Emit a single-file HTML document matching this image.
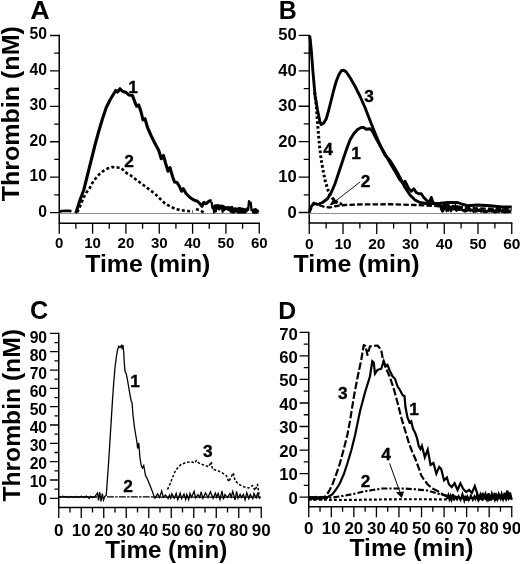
<!DOCTYPE html>
<html><head><meta charset="utf-8"><title>Thrombin generation</title>
<style>
html,body{margin:0;padding:0;background:#fff;}
body{width:520px;height:564px;overflow:hidden;}
svg{display:block;filter:grayscale(1);}
text{font-family:"Liberation Sans",sans-serif;font-weight:bold;fill:#000;}
.ax{stroke:#000;stroke-width:1.5;fill:none;stroke-linecap:butt;}
.tk{stroke:#000;stroke-width:1.3;fill:none;}
.c{fill:none;stroke:#000;stroke-linejoin:round;stroke-linecap:butt;}
</style></head><body>
<svg width="520" height="564" viewBox="0 0 520 564">
<rect width="520" height="564" fill="#fff"/>

<path class="ax" style="stroke-width:1.5" d="M59.25,34.85 V223.2 H259.90"/>
<text transform="translate(47.0,216.80) scale(0.97,1)" font-size="16.2" text-anchor="end">0</text>
<text transform="translate(47.0,181.30) scale(0.97,1)" font-size="16.2" text-anchor="end">10</text>
<text transform="translate(47.0,145.80) scale(0.97,1)" font-size="16.2" text-anchor="end">20</text>
<text transform="translate(47.0,110.30) scale(0.97,1)" font-size="16.2" text-anchor="end">30</text>
<text transform="translate(47.0,74.80) scale(0.97,1)" font-size="16.2" text-anchor="end">40</text>
<text transform="translate(47.0,39.30) scale(0.97,1)" font-size="16.2" text-anchor="end">50</text>
<text transform="translate(59.25,248.2) scale(1.0,1)" font-size="15.0" text-anchor="middle">0</text>
<text transform="translate(92.58,248.2) scale(1.0,1)" font-size="15.0" text-anchor="middle">10</text>
<text transform="translate(125.92,248.2) scale(1.0,1)" font-size="15.0" text-anchor="middle">20</text>
<text transform="translate(159.25,248.2) scale(1.0,1)" font-size="15.0" text-anchor="middle">30</text>
<text transform="translate(192.58,248.2) scale(1.0,1)" font-size="15.0" text-anchor="middle">40</text>
<text transform="translate(225.92,248.2) scale(1.0,1)" font-size="15.0" text-anchor="middle">50</text>
<text transform="translate(259.25,248.2) scale(1.0,1)" font-size="15.0" text-anchor="middle">60</text>
<path class="tk" style="stroke-width:1.3" d="M50.05,212.60H59.25M54.25,194.89H59.25M50.05,177.18H59.25M54.25,159.47H59.25M50.05,141.76H59.25M54.25,124.05H59.25M50.05,106.34H59.25M54.25,88.63H59.25M50.05,70.92H59.25M54.25,53.21H59.25M50.05,35.50H59.25M59.25,223.2V233.7M75.92,223.2V228.7M92.58,223.2V233.7M109.25,223.2V228.7M125.92,223.2V233.7M142.58,223.2V228.7M159.25,223.2V233.7M175.92,223.2V228.7M192.58,223.2V233.7M209.25,223.2V228.7M225.92,223.2V233.7M242.58,223.2V228.7M259.25,223.2V233.7"/>
<path d="M59.25,213.5H259.25" stroke="#8e8e8e" stroke-width="1" fill="none"/>
<text x="30.2" y="19.1" font-size="25" textLength="19.5" lengthAdjust="spacingAndGlyphs">A</text>
<text transform="translate(19.2,201.2) rotate(-90)" font-size="24.5" textLength="175" lengthAdjust="spacingAndGlyphs">Thrombin (nM)</text>
<text x="85.2" y="271.8" font-size="24.2" textLength="125.2" lengthAdjust="spacingAndGlyphs">Time (min)</text>
<path class="c" stroke-width="3.1" d="M75.40,213.00 L76.40,211.50 L80.00,200.00 L83.75,190.00 L87.50,175.00 L91.25,160.00 L95.00,145.00 L98.75,131.25 L102.50,118.75 L106.25,107.50 L110.00,100.00 L113.75,93.75 L115.75,90.50 L117.50,92.00 L120.00,88.75 L122.50,91.25 L126.25,92.50 L128.75,95.00 L132.50,95.50 L135.00,102.50 L136.75,106.25 L138.75,105.00 L141.25,112.50 L143.00,120.00 L145.00,118.75 L147.50,127.50 L151.25,136.00 L155.00,143.50 L158.75,150.50 L161.25,158.75 L163.50,155.50 L165.50,163.00 L168.00,171.25 L170.00,167.70 L172.50,176.50 L174.50,182.00 L177.00,182.50 L179.50,186.50 L181.50,191.25 L183.30,188.75 L186.25,193.75 L190.00,197.50 L193.75,200.00 L197.50,201.25 L200.00,203.75 L202.00,206.25 L203.75,202.50 L206.25,203.75 L208.75,201.25 L210.50,200.80 L211.60,201.20"/>
<path class="c" stroke-width="2.6" d="M59.6,211.8 L62,211 L66,210.8 L69,210.9 L71.5,211.3"/>
<path class="c" stroke-width="2.3" d="M211.60,201.95 L212.45,208.17 L213.30,206.53 L214.15,212.47 L215.00,205.44 L215.85,211.32 L216.70,205.28 L217.55,208.49 L218.40,205.22 L219.25,209.50 L220.10,205.64 L220.95,208.37 L221.80,205.70 L222.65,211.92 L223.50,206.10 L224.35,210.13 L225.20,207.11 L226.05,208.90 L226.90,207.16 L227.75,209.49 L228.60,207.04 L229.45,210.50 L230.30,207.37 L231.15,212.00 L232.00,207.00 L232.85,212.60 L233.70,208.47 L234.55,212.23 L235.40,208.34 L236.25,211.41 L237.10,208.58 L237.95,212.60 L238.80,208.21 L239.65,212.55 L240.50,208.28 L241.35,212.60 L242.20,208.60 L243.05,212.60 L243.90,208.94 L244.75,212.60 L245.60,209.36 L246.45,211.54 L247.30,208.42 L248.15,209.68 L249.00,201.23 L249.85,204.53 L250.70,202.62 L251.55,210.09 L252.40,210.02 L253.25,212.60 L254.10,209.42 L254.95,212.60 L255.80,209.22 L256.65,212.60 L257.50,210.42 L258.35,212.60"/>
<path class="c" stroke-width="2.6" stroke-dasharray="3 2.3" d="M77.30,212.30 L79.50,207.60 L81.50,202.90 L83.60,197.50 L86.20,192.80 L89.70,188.10 L92.60,182.70 L95.50,178.60 L99.00,174.60 L103.00,171.20 L107.50,168.60 L112.50,167.00 L117.50,167.50 L121.25,168.00 L125.00,172.00 L130.00,175.00 L135.00,178.75 L140.00,182.50 L145.00,186.25 L150.00,190.00 L155.00,193.75 L160.00,198.75 L165.00,203.50 L170.00,206.25 L175.00,208.75 L180.00,210.00 L185.00,210.70 L190.00,211.25 L193.00,211.60"/>
<path class="c" stroke-width="2.6" stroke-dasharray="3 2.3" d="M196,209 L199,210 L204,212.5"/>
<text x="128.2" y="93.4" font-size="17.3" stroke="#000" stroke-width="0.35">1</text>
<text x="124.2" y="166.70000000000002" font-size="17.3" stroke="#000" stroke-width="0.35">2</text>
<path class="ax" style="stroke-width:1.5" d="M309.25,34.75 V223.1 H512.40"/>
<text transform="translate(296.8,217.50) scale(1.0,1)" font-size="16.6" text-anchor="end">0</text>
<text transform="translate(296.8,182.08) scale(1.0,1)" font-size="16.6" text-anchor="end">10</text>
<text transform="translate(296.8,146.66) scale(1.0,1)" font-size="16.6" text-anchor="end">20</text>
<text transform="translate(296.8,111.24) scale(1.0,1)" font-size="16.6" text-anchor="end">30</text>
<text transform="translate(296.8,75.82) scale(1.0,1)" font-size="16.6" text-anchor="end">40</text>
<text transform="translate(296.8,40.40) scale(1.0,1)" font-size="16.6" text-anchor="end">50</text>
<text transform="translate(309.25,248.5) scale(1.0,1)" font-size="15.5" text-anchor="middle">0</text>
<text transform="translate(343.00,248.5) scale(1.0,1)" font-size="15.5" text-anchor="middle">10</text>
<text transform="translate(376.75,248.5) scale(1.0,1)" font-size="15.5" text-anchor="middle">20</text>
<text transform="translate(410.50,248.5) scale(1.0,1)" font-size="15.5" text-anchor="middle">30</text>
<text transform="translate(444.25,248.5) scale(1.0,1)" font-size="15.5" text-anchor="middle">40</text>
<text transform="translate(478.00,248.5) scale(1.0,1)" font-size="15.5" text-anchor="middle">50</text>
<text transform="translate(511.75,248.5) scale(1.0,1)" font-size="15.5" text-anchor="middle">60</text>
<path class="tk" style="stroke-width:1.3" d="M298.75,212.50H309.25M303.75,194.79H309.25M298.75,177.08H309.25M303.75,159.37H309.25M298.75,141.66H309.25M303.75,123.95H309.25M298.75,106.24H309.25M303.75,88.53H309.25M298.75,70.82H309.25M303.75,53.11H309.25M298.75,35.40H309.25M309.25,223.1V233.9M326.12,223.1V228.6M343.00,223.1V233.9M359.88,223.1V228.6M376.75,223.1V233.9M393.62,223.1V228.6M410.50,223.1V233.9M427.38,223.1V228.6M444.25,223.1V233.9M461.12,223.1V228.6M478.00,223.1V233.9M494.88,223.1V228.6M511.75,223.1V233.9"/>
<path d="M309.25,213.5H511.75" stroke="#8e8e8e" stroke-width="1" fill="none"/>
<text x="278.7" y="19.2" font-size="24.9">B</text>
<text x="293.5" y="271.6" font-size="24.5" textLength="126" lengthAdjust="spacingAndGlyphs">Time (min)</text>
<path class="c" stroke-width="2.9" d="M309.60,35.50 L310.30,40.00 L311.25,50.00 L313.00,72.50 L315.00,95.00 L317.50,110.00 L320.00,122.00 L321.25,124.60 L323.75,123.00 L326.25,118.75 L328.75,110.00 L331.25,100.00 L333.75,90.00 L336.25,81.25 L338.75,75.00 L341.25,70.75 L343.75,70.30 L346.25,72.00 L350.00,77.50 L355.00,86.25 L360.00,96.25 L365.00,107.50 L370.00,120.50 L375.00,133.00 L380.00,145.00 L385.00,155.00 L390.00,160.50 L395.00,168.50 L400.00,177.50 L405.00,187.50 L410.00,195.00 L415.00,200.00 L420.00,202.50 L427.50,203.75 L440.00,203.25 L450.00,202.50 L457.50,202.50 L462.50,204.25 L467.50,205.75 L477.50,205.00 L490.00,205.75 L502.50,207.00 L511.75,207.00"/>
<path class="c" stroke-width="2.9" d="M309.25,212.50 L311.00,207.00 L313.75,203.00 L317.50,204.50 L322.50,202.50 L327.50,198.75 L331.25,192.50 L335.00,183.75 L338.75,172.50 L342.50,161.25 L346.25,150.00 L350.00,140.00 L353.75,133.75 L357.50,129.50 L361.25,127.50 L363.75,127.50 L366.25,129.25 L370.00,128.75 L372.50,131.25 L376.25,138.75 L381.25,147.50 L386.25,156.25 L391.25,165.00 L395.00,171.25 L400.00,180.00 L403.75,183.75 L405.00,181.25 L408.75,188.75 L411.25,191.25 L413.75,188.75 L416.25,192.50 L418.75,193.75 L421.25,193.75 L423.75,197.50 L427.50,201.25 L430.00,201.25 L431.25,197.50 L433.00,202.50 L436.25,203.75 L440.00,205.00 L442.50,211.25 L444.50,205.00 L447.00,202.50 L448.75,207.50 L451.25,210.00 L453.75,206.25 L456.25,210.00 L460.00,208.75 L465.00,211.25 L470.00,209.50 L475.00,211.25 L480.00,210.00 L485.00,212.00 L490.00,210.00 L495.00,212.00 L500.00,210.50 L505.00,212.00 L511.25,211.25"/>
<path class="c" stroke-width="1.7" d="M441.00,210.42 L441.95,205.42 L443.45,210.86 L444.99,206.28 L446.46,211.59 L447.40,207.37 L448.35,211.12 L449.20,205.46 L450.88,211.59 L452.41,205.61 L453.89,209.77 L455.39,204.92 L456.50,211.03 L457.47,205.49 L458.56,209.82 L459.76,206.06 L460.95,209.60 L462.21,205.89"/>
<path class="c" stroke-width="1.1" d="M470.00,212.15 L471.48,209.57 L473.53,212.61 L475.22,209.86 L477.03,211.05 L479.04,209.08 L480.97,212.46 L483.21,208.85 L484.51,212.34 L485.73,209.75 L487.68,212.11 L489.53,208.44 L491.40,212.14 L493.73,209.03 L494.87,211.24 L496.07,209.38 L497.55,211.85 L499.16,209.59 L501.59,211.87 L502.91,208.49 L504.54,212.38 L506.42,208.87 L508.62,211.41 L510.15,209.50"/>
<path class="c" stroke-width="3" stroke-dasharray="2.6 2.3" d="M314.60,92.00 L316.25,105.00 L317.50,122.50 L318.75,137.50 L320.00,150.00 L321.25,160.00 L323.00,170.00 L325.00,180.00 L327.50,188.75 L330.00,195.00 L333.75,200.00 L337.50,202.50 L342.50,204.50"/>
<path class="c" stroke-width="2.3" stroke-dasharray="5.5 2.2" d="M309.25,212.50 L312.50,205.00 L316.25,203.75 L320.00,205.50 L325.00,207.00 L330.00,207.50 L335.00,206.25 L345.00,205.00 L357.50,204.50 L375.00,204.30 L390.00,204.25 L415.00,205.00 L440.00,206.25 L465.00,208.00 L490.00,208.75 L511.75,209.50"/>
<path class="c" stroke-width="2.2" stroke-dasharray="2.6 2.2" d="M440.00,207.50 L465.00,210.00 L490.00,211.30 L511.75,212.00"/>
<path d="M360,182 L333,203" stroke="#000" stroke-width="0.9" fill="none"/>
<path d="M329.5,205.5 L334,197.8 L338,203 Z" fill="#000"/>
<text x="364.2" y="102.4" font-size="17.3" stroke="#000" stroke-width="0.35">3</text>
<text x="323.2" y="154.6" font-size="17.3" stroke="#000" stroke-width="0.35">4</text>
<text x="351.2" y="159.20000000000002" font-size="17.3" stroke="#000" stroke-width="0.35">1</text>
<text x="360.7" y="186.70000000000002" font-size="17.3" stroke="#000" stroke-width="0.35">2</text>
<path class="ax" style="stroke-width:1.5" d="M58.75,332.75 V507.6 H261.90"/>
<text transform="translate(47.1,504.80) scale(0.94,1)" font-size="16.7" text-anchor="end">0</text>
<text transform="translate(47.1,486.77) scale(0.94,1)" font-size="16.7" text-anchor="end">10</text>
<text transform="translate(47.1,468.74) scale(0.94,1)" font-size="16.7" text-anchor="end">20</text>
<text transform="translate(47.1,450.71) scale(0.94,1)" font-size="16.7" text-anchor="end">30</text>
<text transform="translate(47.1,432.68) scale(0.94,1)" font-size="16.7" text-anchor="end">40</text>
<text transform="translate(47.1,414.65) scale(0.94,1)" font-size="16.7" text-anchor="end">50</text>
<text transform="translate(47.1,396.62) scale(0.94,1)" font-size="16.7" text-anchor="end">60</text>
<text transform="translate(47.1,378.59) scale(0.94,1)" font-size="16.7" text-anchor="end">70</text>
<text transform="translate(47.1,360.56) scale(0.94,1)" font-size="16.7" text-anchor="end">80</text>
<text transform="translate(47.1,342.53) scale(0.94,1)" font-size="16.7" text-anchor="end">90</text>
<text transform="translate(58.75,536.0) scale(1.0,1)" font-size="17" text-anchor="middle">0</text>
<text transform="translate(81.25,536.0) scale(1.0,1)" font-size="17" text-anchor="middle">10</text>
<text transform="translate(103.75,536.0) scale(1.0,1)" font-size="17" text-anchor="middle">20</text>
<text transform="translate(126.25,536.0) scale(1.0,1)" font-size="17" text-anchor="middle">30</text>
<text transform="translate(148.75,536.0) scale(1.0,1)" font-size="17" text-anchor="middle">40</text>
<text transform="translate(171.25,536.0) scale(1.0,1)" font-size="17" text-anchor="middle">50</text>
<text transform="translate(193.75,536.0) scale(1.0,1)" font-size="17" text-anchor="middle">60</text>
<text transform="translate(216.25,536.0) scale(1.0,1)" font-size="17" text-anchor="middle">70</text>
<text transform="translate(238.75,536.0) scale(1.0,1)" font-size="17" text-anchor="middle">80</text>
<text transform="translate(261.25,536.0) scale(1.0,1)" font-size="17" text-anchor="middle">90</text>
<path class="tk" style="stroke-width:1.3" d="M49.95,498.30H58.75M54.45,489.14H58.75M49.95,479.98H58.75M54.45,470.82H58.75M49.95,461.66H58.75M54.45,452.49H58.75M49.95,443.33H58.75M54.45,434.17H58.75M49.95,425.01H58.75M54.45,415.85H58.75M49.95,406.69H58.75M54.45,397.53H58.75M49.95,388.37H58.75M54.45,379.21H58.75M49.95,370.04H58.75M54.45,360.88H58.75M49.95,351.72H58.75M54.45,342.56H58.75M49.95,333.40H58.75M58.75,507.6V518.1M70.00,507.6V512.6M81.25,507.6V518.1M92.50,507.6V512.6M103.75,507.6V518.1M115.00,507.6V512.6M126.25,507.6V518.1M137.50,507.6V512.6M148.75,507.6V518.1M160.00,507.6V512.6M171.25,507.6V518.1M182.50,507.6V512.6M193.75,507.6V518.1M205.00,507.6V512.6M216.25,507.6V518.1M227.50,507.6V512.6M238.75,507.6V518.1M250.00,507.6V512.6M261.25,507.6V518.1"/>
<text x="30.0" y="319.4" font-size="25.2">C</text>
<text transform="translate(19.5,501.6) rotate(-90)" font-size="24.5" textLength="172.5" lengthAdjust="spacingAndGlyphs">Thrombin (nM)</text>
<text x="105.3" y="557.6" font-size="24" textLength="122" lengthAdjust="spacingAndGlyphs">Time (min)</text>
<path class="c" stroke-width="1.3" style="stroke-linejoin:miter" d="M59.00,497.00 L61.00,497.19 L62.97,496.17 L64.41,497.03 L66.18,496.42 L68.33,497.59 L70.78,496.47 L73.62,497.38 L76.12,496.53 L78.49,497.61 L81.33,496.26 L84.20,497.51 L86.21,496.03 L89.18,498.35 L90.74,496.43 L92.82,497.45 L95.04,496.31 L97.50,493.00 L98.50,500.50 L99.70,492.00 L101.00,501.50 L102.30,493.50 L103.50,500.00 L104.80,496.50 L106.25,495.50 L107.50,478.00 L108.75,460.50 L110.00,440.00 L111.25,420.00 L112.50,400.00 L113.75,382.50 L115.00,367.50 L116.25,357.50 L117.50,350.00 L118.75,346.25 L120.00,347.50 L121.25,345.50 L122.00,348.00 L123.00,345.00 L123.75,352.50 L124.25,362.50 L125.00,371.25 L126.25,373.75 L127.50,380.00 L128.75,387.50 L130.00,395.00 L131.25,401.25 L132.00,402.50 L133.00,415.00 L134.50,427.50 L135.75,435.00 L137.00,442.50 L137.60,448.50 L138.75,443.00 L140.00,458.00 L141.25,465.50 L142.50,468.00 L143.75,465.50 L145.50,475.50 L147.50,479.25 L150.00,485.50 L152.50,491.75 L153.75,495.50 L155.00,498.12 L157.54,493.84 L159.58,497.40 L161.68,491.13 L163.28,497.14 L165.47,494.99 L168.08,498.67 L169.46,495.06 L170.69,498.26 L171.87,493.85 L174.29,498.30 L176.19,493.31 L177.76,499.59 L180.17,493.19 L181.66,498.69 L183.97,494.02 L185.69,499.49 L186.83,494.53 L188.69,499.55 L189.94,493.40 L191.49,497.14 L194.10,491.29 L195.61,497.88 L197.96,494.62 L199.78,497.41 L201.12,491.78 L202.90,498.36 L205.52,492.93 L208.00,497.47 L210.44,491.79 L213.08,498.36 L215.40,493.14 L216.65,497.14 L218.16,493.48 L219.99,499.49 L222.00,490.82 L223.38,499.35 L224.89,494.59 L227.46,497.43 L229.94,493.47 L231.24,497.00 L232.75,491.52 L235.14,500.02 L236.54,491.45 L238.03,498.41 L240.10,494.34 L241.55,497.51 L243.37,494.30 L245.07,499.91 L246.76,492.69 L248.90,498.77 L250.26,494.41 L252.78,498.79 L253.95,493.38 L256.20,497.76 L257.46,493.63 L259.96,498.89"/>
<path class="c" stroke-width="1.5" d="M59,496.9 H97"/>
<path class="c" stroke-width="1.15" stroke-dasharray="7 1.2 2.5 1.2" d="M107,496.8 H153"/>
<path class="c" stroke-width="1.3" d="M153,497.2 H261"/>
<path class="c" stroke-width="1.5" stroke-dasharray="2.6 1.8" d="M167.50,489.50 L170.00,484.00 L172.50,477.50 L175.00,471.75 L177.50,468.00 L181.25,464.25 L186.25,462.50 L191.25,461.75 L195.00,463.00 L196.25,460.50 L198.75,463.00 L203.75,465.00 L208.75,466.75 L211.25,461.75 L212.50,469.25 L217.50,470.50 L222.50,473.00 L226.25,475.50 L228.75,481.75 L231.25,476.75 L233.25,473.00 L235.00,480.50 L238.75,484.25 L243.75,486.75 L248.75,488.00 L252.50,485.50 L255.00,490.50 L257.50,484.25 L259.25,495.50"/>
<text x="130.2" y="386.7" font-size="17.3" stroke="#000" stroke-width="0.35">1</text>
<text x="123.2" y="492.2" font-size="17.3" stroke="#000" stroke-width="0.35">2</text>
<text x="203.0" y="457.2" font-size="17.3" stroke="#000" stroke-width="0.35">3</text>
<path class="ax" style="stroke-width:1.5" d="M308.75,331.75 V506.7 H512.40"/>
<text transform="translate(297.8,503.70) scale(1.03,1)" font-size="16.2" text-anchor="end">0</text>
<text transform="translate(297.8,480.25) scale(1.03,1)" font-size="16.2" text-anchor="end">10</text>
<text transform="translate(297.8,456.80) scale(1.03,1)" font-size="16.2" text-anchor="end">20</text>
<text transform="translate(297.8,433.35) scale(1.03,1)" font-size="16.2" text-anchor="end">30</text>
<text transform="translate(297.8,409.90) scale(1.03,1)" font-size="16.2" text-anchor="end">40</text>
<text transform="translate(297.8,386.45) scale(1.03,1)" font-size="16.2" text-anchor="end">50</text>
<text transform="translate(297.8,363.00) scale(1.03,1)" font-size="16.2" text-anchor="end">60</text>
<text transform="translate(297.8,339.55) scale(1.03,1)" font-size="16.2" text-anchor="end">70</text>
<text transform="translate(308.75,534.0) scale(1.0,1)" font-size="17" text-anchor="middle">0</text>
<text transform="translate(331.31,534.0) scale(1.0,1)" font-size="17" text-anchor="middle">10</text>
<text transform="translate(353.86,534.0) scale(1.0,1)" font-size="17" text-anchor="middle">20</text>
<text transform="translate(376.42,534.0) scale(1.0,1)" font-size="17" text-anchor="middle">30</text>
<text transform="translate(398.97,534.0) scale(1.0,1)" font-size="17" text-anchor="middle">40</text>
<text transform="translate(421.53,534.0) scale(1.0,1)" font-size="17" text-anchor="middle">50</text>
<text transform="translate(444.08,534.0) scale(1.0,1)" font-size="17" text-anchor="middle">60</text>
<text transform="translate(466.64,534.0) scale(1.0,1)" font-size="17" text-anchor="middle">70</text>
<text transform="translate(489.19,534.0) scale(1.0,1)" font-size="17" text-anchor="middle">80</text>
<text transform="translate(511.75,534.0) scale(1.0,1)" font-size="17" text-anchor="middle">90</text>
<path class="tk" style="stroke-width:1.3" d="M299.55,497.10H308.75M303.75,485.34H308.75M299.55,473.57H308.75M303.75,461.81H308.75M299.55,450.04H308.75M303.75,438.28H308.75M299.55,426.51H308.75M303.75,414.75H308.75M299.55,402.99H308.75M303.75,391.22H308.75M299.55,379.46H308.75M303.75,367.69H308.75M299.55,355.93H308.75M303.75,344.16H308.75M299.55,332.40H308.75M308.75,506.7V517.3M320.03,506.7V511.7M331.31,506.7V517.3M342.58,506.7V511.7M353.86,506.7V517.3M365.14,506.7V511.7M376.42,506.7V517.3M387.69,506.7V511.7M398.97,506.7V517.3M410.25,506.7V511.7M421.53,506.7V517.3M432.81,506.7V511.7M444.08,506.7V517.3M455.36,506.7V511.7M466.64,506.7V517.3M477.92,506.7V511.7M489.19,506.7V517.3M500.47,506.7V511.7M511.75,506.7V517.3"/>
<text x="278.2" y="318.8" font-size="24.8">D</text>
<text x="349.5" y="555.6" font-size="24.2" textLength="124" lengthAdjust="spacingAndGlyphs">Time (min)</text>
<path class="c" stroke-width="2.2" stroke-dasharray="7.5 2.4" d="M309.00,497.25 L318.00,497.30 L325.00,496.75 L328.75,491.75 L332.50,484.25 L336.25,474.25 L340.00,463.00 L343.75,449.25 L347.50,434.25 L350.00,421.00 L353.75,397.50 L357.50,377.50 L361.25,360.00 L363.75,345.00 L365.50,346.25 L367.50,355.00 L370.00,346.25 L377.50,345.50 L381.25,350.00 L383.00,360.00 L386.25,368.75 L390.00,377.50 L393.75,388.75 L397.50,402.50 L401.25,417.50 L405.00,430.00 L408.75,442.50 L412.50,452.50 L415.00,458.00 L418.75,468.00 L421.25,475.50 L423.75,479.25 L427.50,484.25 L432.50,488.50 L437.50,491.00 L442.50,494.25 L447.50,496.75 L452.50,498.00 L470.00,498.20 L490.00,498.00 L511.00,498.20"/>
<path class="c" stroke-width="2.2" style="stroke-linejoin:miter" d="M309.00,497.30 L320.00,497.60 L327.50,497.25 L332.50,494.25 L336.25,489.25 L340.00,483.00 L343.75,474.25 L347.50,463.00 L351.25,450.50 L355.00,435.50 L360.00,411.25 L365.00,392.50 L370.00,376.25 L372.30,361.25 L373.75,362.50 L375.00,373.75 L377.50,370.00 L381.25,368.75 L383.75,361.25 L385.50,366.25 L387.50,365.00 L390.00,371.25 L392.50,376.25 L395.00,378.75 L397.50,386.25 L400.00,390.00 L402.50,395.00 L404.50,396.25 L405.50,407.50 L407.50,417.50 L409.50,422.50 L411.25,421.25 L413.00,428.75 L415.00,432.50 L417.00,438.00 L418.75,446.00 L420.50,449.00 L421.92,445.77 L424.81,457.31 L427.69,449.62 L430.58,465.00 L433.46,463.08 L436.35,473.65 L439.23,466.92 L441.15,468.85 L444.04,480.38 L446.92,477.50 L448.85,484.23 L451.73,487.12 L454.62,483.27 L457.50,490.00 L460.38,483.27 L463.27,489.04 L466.15,491.92 L469.04,490.00 L471.92,492.88 L474.81,486.15 L477.69,494.81 L478.50,500.26 L480.27,494.86 L481.54,499.96 L482.56,492.81 L483.86,497.76 L485.44,493.77 L487.04,499.21 L488.70,493.23 L490.18,500.41 L491.81,493.94 L493.33,499.02 L494.65,492.81 L495.95,500.45 L496.95,494.08 L497.97,498.15 L498.82,494.24 L500.52,498.34 L501.64,494.14 L503.04,498.78 L504.70,492.84 L505.77,499.03 L507.22,490.63 L509.08,497.46 L509.91,492.51 L511.78,499.87"/>
<path class="c" stroke-width="2.4" d="M310.00,498.88 L312.01,497.40 L314.11,499.57 L315.90,497.07 L318.10,498.84 L320.26,497.06 L321.62,499.05 L323.36,496.96 L325.40,499.23 L327.23,497.43"/>
<path class="c" stroke-width="2" style="stroke-linejoin:miter" d="M447.00,499.01 L448.37,495.02 L449.41,499.10 L450.48,495.91 L451.55,499.69 L452.94,494.11 L453.87,500.48 L455.00,496.71 L457.05,499.59 L458.65,496.28 L460.56,500.01 L462.46,494.13 L464.25,500.34 L465.41,495.80 L466.54,500.85 L467.49,496.69 L468.86,499.91 L470.92,495.45 L472.77,499.87 L474.41,496.29 L475.43,499.03 L477.05,494.99 L478.43,500.42 L480.52,496.97 L482.38,499.52 L483.95,496.68 L486.03,499.32 L487.33,495.96 L488.80,499.62 L490.04,496.62 L491.70,499.09 L492.77,495.94 L494.84,500.15 L496.65,495.43 L497.57,499.38 L498.68,496.89 L500.62,498.75 L501.76,496.97 L503.02,499.01 L504.76,496.33 L506.14,499.67 L507.59,495.95 L508.65,498.89 L510.45,495.51"/>
<path class="c" stroke-width="2.2" stroke-dasharray="6 2 2.2 2" d="M309.00,497.50 L332.50,497.50 L342.50,496.00 L352.50,494.25 L362.50,491.75 L372.50,490.00 L382.50,488.50 L392.50,488.50 L402.50,488.50 L415.00,489.25 L427.50,490.50 L440.00,494.25 L452.50,496.75 L465.00,497.50"/>
<path class="c" stroke-width="2.2" stroke-dasharray="2.8 2.2" d="M309.00,499.50 L342.50,500.00 L400.00,499.25 L455.00,499.30"/>
<path d="M389.6,463.4 L400.3,493" stroke="#000" stroke-width="1" fill="none"/>
<path d="M401.8,497.9 L395.9,492.3 L404.1,491.6 Z" fill="#000"/>
<text x="338.0" y="399.2" font-size="17.3" stroke="#000" stroke-width="0.35">3</text>
<text x="409.2" y="415.4" font-size="17.3" stroke="#000" stroke-width="0.35">1</text>
<text x="381.2" y="460.2" font-size="17.3" stroke="#000" stroke-width="0.35">4</text>
<text x="360.7" y="486.7" font-size="17.3" stroke="#000" stroke-width="0.35">2</text>
</svg></body></html>
